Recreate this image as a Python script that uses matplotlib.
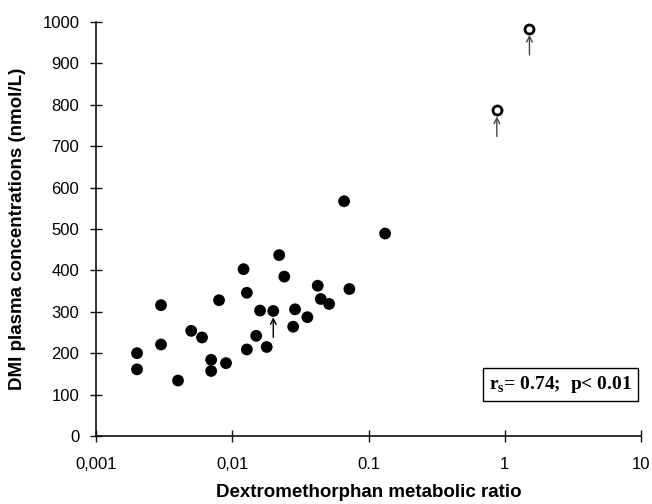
import matplotlib
matplotlib.use("Agg")
import matplotlib.pyplot as plt
from matplotlib.ticker import FixedLocator, FixedFormatter

# Filled circles: dextromethorphan metabolic ratio vs DMI concentration
ratio = [0.002, 0.002, 0.003, 0.003, 0.004, 0.005, 0.006, 0.007, 0.007, 0.008,
         0.009, 0.0121, 0.0128, 0.0128, 0.015, 0.016, 0.0179, 0.020, 0.0221, 0.0241,
         0.028, 0.0289, 0.0356, 0.0424, 0.0446, 0.0514, 0.0662, 0.0724, 0.1324]
dmi = [200, 161, 316, 221, 134, 254, 238, 184, 157, 328,
       176, 403, 346, 209, 242, 303, 215, 302, 437, 385,
       264, 306, 287, 363, 331, 319, 567, 355, 489]

# Open circles (outliers)
ratio_open = [0.875, 1.518]
dmi_open = [787, 984]

# Points marked by arrows
arrow_x = [0.020, 0.875, 1.518]
arrow_y = [302, 787, 984]
arrow_col = ["black", "#444444", "#444444"]

xticks = [0.001, 0.01, 0.1, 1, 10]
xticklabels = ["0,001", "0,01", "0.1", "1", "10"]
yticks = list(range(0, 1001, 100))

fig = plt.figure(figsize=(6.52, 5.04), dpi=100)
ax = fig.add_axes([96/652, 1-436/504, 545/652, 414/504])

ax.scatter(ratio, dmi, s=72, color="black", edgecolors="none", zorder=3)
ax.scatter(ratio_open, dmi_open, s=42, facecolors="white", edgecolors="black",
           linewidths=2.0, zorder=3)

for x, y, c in zip(arrow_x, arrow_y, arrow_col):
    ax.annotate("", xy=(x, y), xycoords="data",
                xytext=(0, -19), textcoords="offset points",
                arrowprops=dict(arrowstyle="->", color=c, lw=1.0,
                                shrinkA=0, shrinkB=4.5,
                                mutation_scale=10),
                zorder=4)

ax.set_xscale("log")
ax.set_xlim(0.001, 10)
ax.set_ylim(0, 1000)
ax.xaxis.set_major_locator(FixedLocator(xticks))
ax.xaxis.set_major_formatter(FixedFormatter(xticklabels))
ax.xaxis.set_minor_locator(FixedLocator([]))
ax.set_yticks(yticks)

for s in ["top", "right"]:
    ax.spines[s].set_visible(False)
for s in ["left", "bottom"]:
    ax.spines[s].set_linewidth(1.2)
    ax.spines[s].set_color("#111111")

ax.tick_params(axis="both", direction="inout", length=8, width=1.0, colors="#111111")
ax.tick_params(axis="y", pad=8)
ax.tick_params(axis="x", pad=11)
for lab in ax.get_xticklabels() + ax.get_yticklabels():
    lab.set_fontfamily("Liberation Sans")
    lab.set_fontsize(12)
    lab.set_color("black")

ax.set_xlabel("Dextromethorphan metabolic ratio", fontfamily="Liberation Sans",
              fontweight="bold", fontsize=13.5, labelpad=9)
ax.set_ylabel("DMI plasma concentrations (nmol/L)", fontfamily="Liberation Sans",
              fontweight="bold", fontsize=13.5, labelpad=12)

ax.text(0.852, 0.124, r"r$_{\mathregular{s}}$= 0.74;  p< 0.01", transform=ax.transAxes,
        ha="center", va="center", fontfamily="Liberation Serif", fontweight="bold",
        fontsize=14,
        bbox=dict(boxstyle="square,pad=0.3", facecolor="white", edgecolor="black",
                  linewidth=1.0))

fig.savefig("out.png", dpi=100)
